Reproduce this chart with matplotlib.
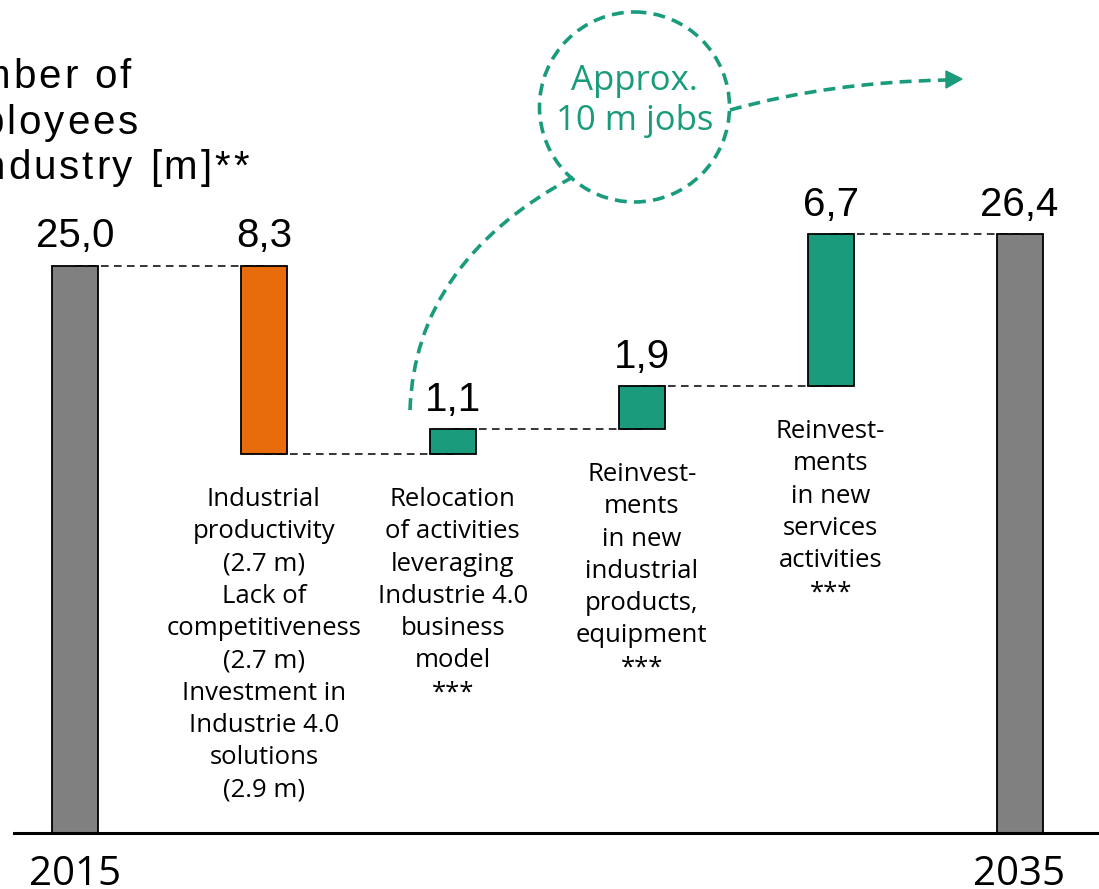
import matplotlib.pyplot as plt
from matplotlib.patches import Circle, PathPatch, Polygon
from matplotlib.path import Path
from matplotlib.font_manager import FontProperties, findfont
from matplotlib.ft2font import FT2Font

# waterfall steps: employees in industry, 2015 -> 2035 [m]
steps = ['2015', 'productivity', 'relocation', 'products', 'services', '2035']
values = [25.0, -8.3, 1.1, 1.9, 6.7, 26.4]
kinds = ['total', 'delta', 'delta', 'delta', 'delta', 'total']
year_labels = ['2015', '', '', '', '', '2035']
step_labels = [
    '',
    'Industrial\nproductivity\n(2.7 m)\nLack of\ncompetitiveness\n(2.7 m)\n'
    'Investment in\nIndustrie 4.0\nsolutions\n(2.9 m)',
    'Relocation\nof activities\nleveraging\nIndustrie 4.0\nbusiness\nmodel\n***',
    'Reinvest-\nments\nin new\nindustrial\nproducts,\nequipment\n***',
    'Reinvest-\nments\nin new\nservices\nactivities\n***',
    '',
]
title_lines = ['Number of', 'employees', 'in industry [m]**']
bubble_text = 'Approx.\n10 m jobs'

GRAY = '#808080'
ORANGE = '#E96C0C'
GREEN = '#1A9C7C'

W, H = 1099, 889
DPI = 100
fig = plt.figure(figsize=(W / DPI, H / DPI), dpi=DPI)
ax = fig.add_axes([0, 0, 1, 1])
ax.axis('off')

# scale: x step ~189 px, 1 unit ~22.7 px, baseline at y=833 px
xs = 188.9
ys = 22.7
ax.set_xlim(-75 / xs, (W - 75) / xs)
ax.set_ylim(-(H - 833) / ys, 833 / ys)

bottoms, tops, colors = [], [], []
running = 0.0
for v, k in zip(values, kinds):
    if k == 'total':
        b, t = 0.0, v
        running = v
        colors.append(GRAY)
    else:
        if v < 0:
            b, t = running + v, running
            colors.append(ORANGE)
        else:
            b, t = running, running + v
            colors.append(GREEN)
        running += v
    bottoms.append(b)
    tops.append(t)

x = list(range(len(values)))
heights = [t - b for b, t in zip(bottoms, tops)]
ax.bar(x, heights, bottom=bottoms, width=46 / xs, color=colors,
       edgecolor='black', linewidth=1.3, zorder=3)

# dashed connectors between steps
levels = []
running = 0.0
for v, k in zip(values, kinds):
    running = v if k == 'total' else running + v
    levels.append(running)
for i in range(len(values) - 1):
    ax.plot([i, i + 1], [levels[i], levels[i]], color='black', lw=1.1,
            ls=(0, (5, 3.5)), zorder=2)

ax.axhline(0, xmin=14 / W, xmax=1, color='black', lw=2.2, zorder=4)

for i, v in enumerate(values):
    ax.annotate(f'{abs(v):.1f}'.replace('.', ','), (i, tops[i]),
                xytext=(0, 13), textcoords='offset points',
                ha='center', va='baseline', fontsize=29,
                family='Liberation Sans')
    if step_labels[i]:
        ax.annotate(step_labels[i], (i, bottoms[i]), xytext=(0, -24),
                    textcoords='offset points', ha='center', va='top',
                    fontsize=18.5, family='Open Sans', linespacing=1.38)
    if year_labels[i]:
        ax.annotate(year_labels[i], (i, 0), xytext=(0, -37.5),
                    textcoords='offset points', ha='center', va='baseline',
                    fontsize=29, family='Open Sans')

# overlay in pixel coordinates (y downwards)
ov = fig.add_axes([0, 0, 1, 1])
ov.set_xlim(0, W)
ov.set_ylim(H, 0)
ov.axis('off')


def advances(s, family, size):
    font = FT2Font(findfont(FontProperties(family=family)))
    font.set_size(size, DPI)
    return [font.load_char(ord(c)).linearHoriAdvance / 65536 for c in s]


def tracked_text(x0, y, s, track, family='Liberation Sans', size=29, **kw):
    # left-aligned text with extra letter spacing
    for c, a in zip(s, advances(s, family, size)):
        if c != ' ':
            ov.text(x0, y, c, family=family, fontsize=size, ha='left',
                    va='baseline', **kw)
        x0 += a + track


for j, line in enumerate(title_lines):
    tracked_text(-81, 88 + 45.5 * j, line, 3)

dash = (0, (3.3, 2))
ov.add_patch(Circle((634.5, 107), 95, fill=False, ec=GREEN, lw=2.6,
                    ls=dash))
ov.text(634.5, 101, bubble_text, color=GREEN, fontsize=25, family='Open Sans',
        ha='center', va='center', linespacing=1.25)

left_curve = Path([(410, 410), (415, 262), (573, 177)],
                  [Path.MOVETO, Path.CURVE3, Path.CURVE3])
ov.add_patch(PathPatch(left_curve, fill=False, ec=GREEN, lw=2.6, ls=dash))
right_curve = Path([(730, 110), (830, 82), (947, 80)],
                   [Path.MOVETO, Path.CURVE3, Path.CURVE3])
ov.add_patch(PathPatch(right_curve, fill=False, ec=GREEN, lw=2.6, ls=dash))
ov.add_patch(Polygon([(962, 79), (946, 71), (946, 88)], closed=True,
                     fc=GREEN, ec=GREEN, lw=1))

fig.savefig('out.png', dpi=DPI)
